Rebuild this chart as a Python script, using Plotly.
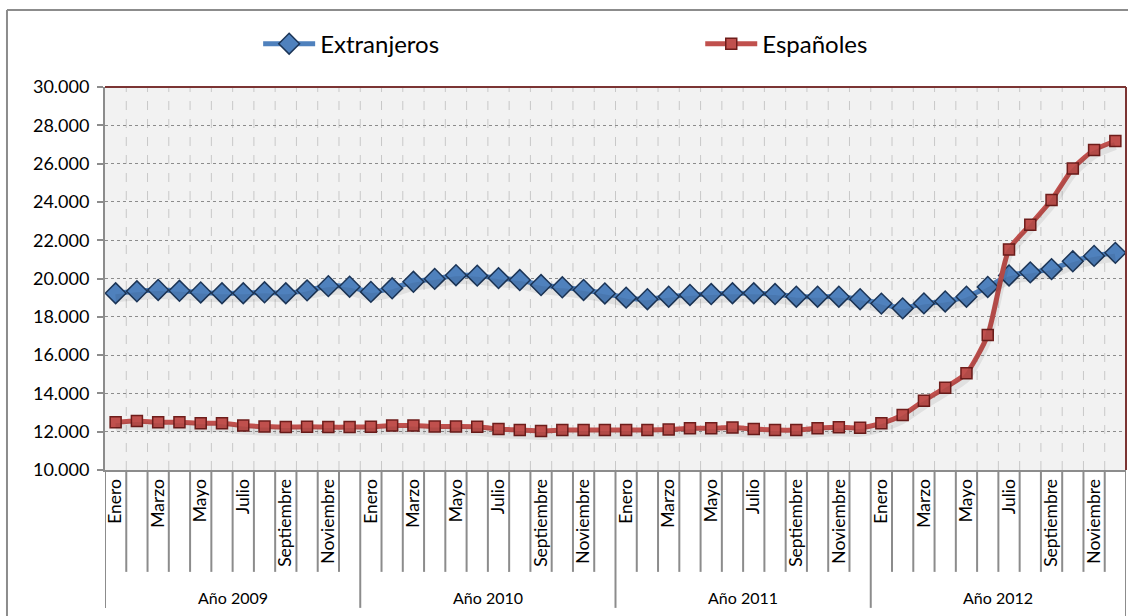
import plotly.graph_objects as go

# Monthly series, January 2009 to December 2012
meses = ["Enero", "Febrero", "Marzo", "Abril", "Mayo", "Junio", "Julio",
         "Agosto", "Septiembre", "Octubre", "Noviembre", "Diciembre"]
anios = ["Año 2009", "Año 2010", "Año 2011", "Año 2012"]

extranjeros = [
    19230, 19330, 19400, 19360, 19270, 19230, 19230, 19280, 19230, 19380, 19600, 19570,
    19300, 19490, 19830, 19980, 20170, 20150, 20020, 19920, 19660, 19540, 19400, 19220,
    19000, 18920, 19050, 19140, 19190, 19230, 19230, 19190, 19050, 19050, 19050, 18920,
    18690, 18440, 18700, 18800, 19050, 19560, 20160, 20320, 20490, 20900, 21180, 21340,
]
espanoles = [
    12500, 12560, 12490, 12490, 12440, 12440, 12320, 12270, 12240, 12260, 12240, 12240,
    12260, 12320, 12320, 12270, 12270, 12260, 12140, 12090, 12040, 12090, 12090, 12090,
    12090, 12090, 12110, 12180, 12180, 12220, 12140, 12090, 12090, 12180, 12230, 12200,
    12440, 12870, 13620, 14300, 15050, 17050, 21520, 22810, 24100, 25740, 26710, 27180,
]

y_ticks = [10000, 12000, 14000, 16000, 18000, 20000, 22000, 24000, 26000, 28000, 30000]

n = len(meses) * len(anios)
idx = list(range(n))
FONT = "Lato, Calibri, sans-serif"
AZUL, AZUL_BORDE = "#4F81BD", "#1C3557"
ROJO, ROJO_BORDE = "#C0504D", "#6E1D1B"

# shadow axis: same scale shifted a few pixels down
ymin, ymax = y_ticks[0], y_ticks[-1]
shift = (ymax - ymin) * 5 / 383

fig = go.Figure()

for serie in (extranjeros, espanoles):
    fig.add_trace(go.Scatter(
        x=idx, y=serie, yaxis="y2", mode="lines",
        line=dict(color="rgba(0,0,0,0.07)", width=8, shape="spline", smoothing=0.6),
        showlegend=False, hoverinfo="skip"))

fig.add_trace(go.Scatter(
    x=idx, y=extranjeros, name="Extranjeros", mode="lines+markers", legend="legend",
    line=dict(color=AZUL, width=5, shape="spline", smoothing=0.6),
    marker=dict(symbol="diamond", size=16, color=AZUL,
                line=dict(color=AZUL_BORDE, width=1.5))))
fig.add_trace(go.Scatter(
    x=idx, y=espanoles, name="Españoles", mode="lines+markers", legend="legend2",
    line=dict(color=ROJO, width=5, shape="spline", smoothing=0.6),
    marker=dict(symbol="square", size=11, color=ROJO,
                line=dict(color=ROJO_BORDE, width=1.5))))

shapes = []
# vertical dashed gridlines between months
for i in range(1, n):
    shapes.append(dict(type="line", xref="x", yref="y domain", x0=i - 0.5, x1=i - 0.5,
                       y0=0, y1=1, line=dict(color="#C8C8C8", width=1, dash="dash"),
                       layer="below"))
# month separators below the axis
for i in range(0, n + 1):
    if i % 12 == 0:
        y_end = -0.381 if i == n else -0.360
    else:
        y_end = -0.266
    shapes.append(dict(type="line", xref="x", yref="y domain", x0=i - 0.5, x1=i - 0.5,
                       y0=0, y1=y_end, line=dict(color="#8C8C8C", width=2)))
# plot-area border (top and right)
shapes.append(dict(type="line", xref="x domain", yref="y domain", x0=0, x1=1, y0=1, y1=1,
                   line=dict(color="#7B3433", width=2)))
shapes.append(dict(type="line", xref="x domain", yref="y domain", x0=1, x1=1, y0=0, y1=1,
                   line=dict(color="#7B3433", width=2)))
# outer chart frame
shapes.append(dict(type="line", xref="paper", yref="paper", x0=-0.096, x1=1.01,
                   y0=1.201, y1=1.201, line=dict(color="#8C8C8C", width=2)))
shapes.append(dict(type="line", xref="paper", yref="paper", x0=-0.096, x1=-0.096,
                   y0=1.201, y1=-0.40, line=dict(color="#8C8C8C", width=2)))

annotations = []
for k, anio in enumerate(anios):
    annotations.append(dict(x=k * 12 + 5.5, y=-0.334, xref="x", yref="y domain",
                            yanchor="middle", text=anio, showarrow=False,
                            font=dict(family=FONT, size=16, color="#000000")))

legend_style = dict(orientation="h", xanchor="left", y=1.112, yanchor="middle",
                    font=dict(family=FONT, size=24, color="#000000"),
                    itemwidth=52, bgcolor="rgba(0,0,0,0)")

tick_idx = [i for i in idx if i % 2 == 0]
fig.update_layout(
    width=1128, height=616,
    margin=dict(l=105, r=2, t=87, b=146),
    paper_bgcolor="#FFFFFF", plot_bgcolor="#F2F2F2",
    separators=",.",
    font=dict(family=FONT, size=17, color="#000000"),
    showlegend=True,
    legend=dict(x=0.150, **legend_style),
    legend2=dict(x=0.583, **legend_style),
    xaxis=dict(range=[-0.5, n - 0.5], tickmode="array", tickvals=tick_idx,
               ticktext=[meses[i % 12] for i in tick_idx], tickangle=-90,
               ticks="", showgrid=False, zeroline=False,
               showline=True, linecolor="#8C8C8C", linewidth=2,
               tickfont=dict(family=FONT, size=17.5, color="#000000")),
    yaxis=dict(range=[ymin, ymax], tickmode="array", tickvals=y_ticks,
               tickformat=",.0f", ticks="outside", ticklen=6, tickcolor="#8C8C8C",
               tickwidth=1.5, showline=True, linecolor="#8C8C8C", linewidth=2,
               showgrid=True, gridcolor="#8C8C8C", gridwidth=1, griddash="dot",
               zeroline=False, ticklabelstandoff=4,
               tickfont=dict(family=FONT, size=18, color="#000000")),
    yaxis2=dict(range=[ymin + shift, ymax + shift], overlaying="y", visible=False),
    shapes=shapes, annotations=annotations,
)

fig.write_html("out.html")
